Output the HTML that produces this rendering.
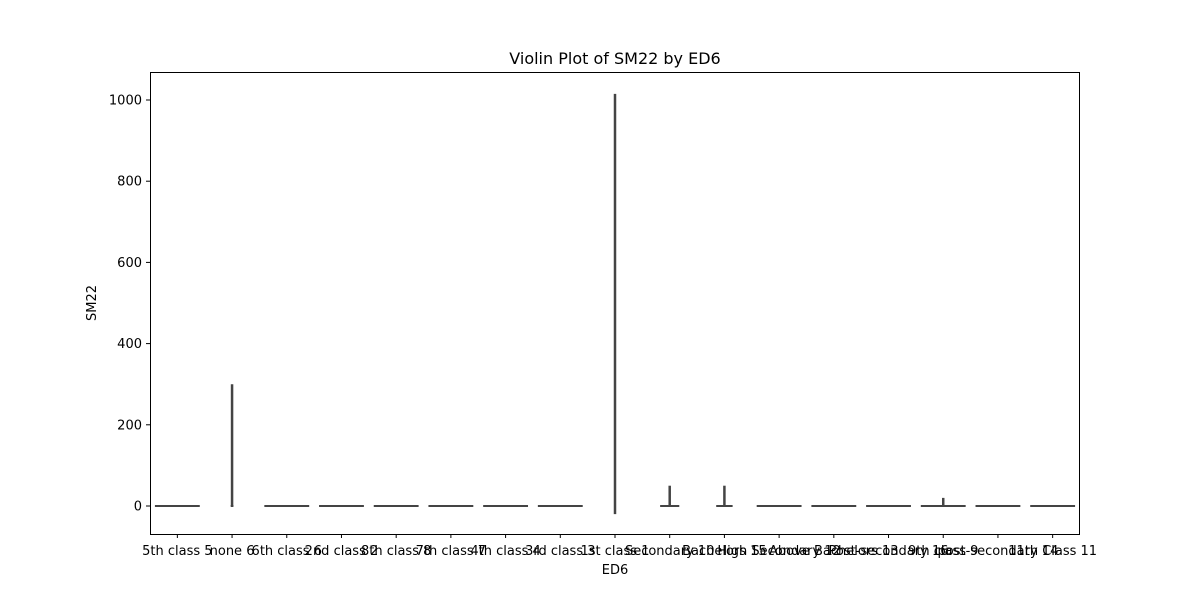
<!DOCTYPE html>
<html><head><meta charset="utf-8"><style>
body{margin:0;background:#fff;}
svg text{font-family:"DejaVu Sans","Liberation Sans",sans-serif;}
</style></head><body>
<svg id="chart" width="1200" height="600" xmlns="http://www.w3.org/2000/svg">
<rect width="1200" height="600" fill="#fff"/>
<text x="615" y="64" font-size="16" text-anchor="middle">Violin Plot of SM22 by ED6</text>
<g id="marks"></g>
<g id="axes"></g>
<rect x="150.5" y="72.5" width="929" height="462" fill="none" stroke="#000" stroke-width="1"/>
<text x="615" y="574" font-size="13" text-anchor="middle">ED6</text>
<text transform="translate(96,303) rotate(-90)" font-size="13" text-anchor="middle">SM22</text>
</svg>
<script>
const categories=["5th class 5","none 6","6th class 6","2nd class 2","8th class 8","7th class 7","4th class 4","3rd class 3","1st class 1","Secondary 10","Bachelors 15","High Secondary 12","Above Bachelors 13","Post-secondary 16","9th class 9","post-secondary 14","11th Class 11"];
const minVals=[0,0,0,0,0,0,0,0,-20,0,0,0,0,0,0,0,0];
const maxVals=[0,300,0,0,0,0,0,0,1015,50,50,0,0,0,20,0,0];
const widthFrac=[0.82,0.05,0.82,0.82,0.82,0.82,0.82,0.82,0.03,0.35,0.3,0.82,0.82,0.82,0.82,0.82,0.82];
const yTicks=[0,200,400,600,800,1000];
const NS="http://www.w3.org/2000/svg";
const x0=150,x1=1080,yTop=72,yBot=534;
const step=(x1-x0)/categories.length;
const xs=i=>x0+step*(i+0.5);
const ys=v=>506-v*(406/1000);
const marks=document.getElementById('marks'),axes=document.getElementById('axes');
function mk(t,a,p){const e=document.createElementNS(NS,t);for(const k in a)e.setAttribute(k,a[k]);p.appendChild(e);return e;}
categories.forEach((c,i)=>{
  const g=mk('g',{},marks);
  
  
  const cx=xs(i),hw=widthFrac[i]*step/2;
  const h=mk('line',{x1:cx-hw,x2:cx+hw,y1:ys(0),y2:ys(0),stroke:'#444',"stroke-width":2},g);
  
  
  if(maxVals[i]!==minVals[i]){
    const v=mk('line',{x1:cx,x2:cx,y1:ys(maxVals[i]),y2:ys(minVals[i]),stroke:'#444',"stroke-width":2.5},g);
    
    
  }
  const t=mk('line',{x1:cx,x2:cx,y1:yBot,y2:yBot+4,stroke:'#000'},axes);
  
  
  const l=mk('text',{x:cx,y:yBot+21,"font-size":13,"text-anchor":"middle"},axes);
  
  
  l.textContent=c;
});
yTicks.forEach(v=>{
  const t=mk('line',{x1:x0-4,x2:x0,y1:ys(v),y2:ys(v),stroke:'#000'},axes);
  
  
  const l=mk('text',{x:x0-8,y:ys(v)+4.5,"font-size":13,"text-anchor":"end"},axes);
  
  
  l.textContent=v;
});
</script>
</body></html>
